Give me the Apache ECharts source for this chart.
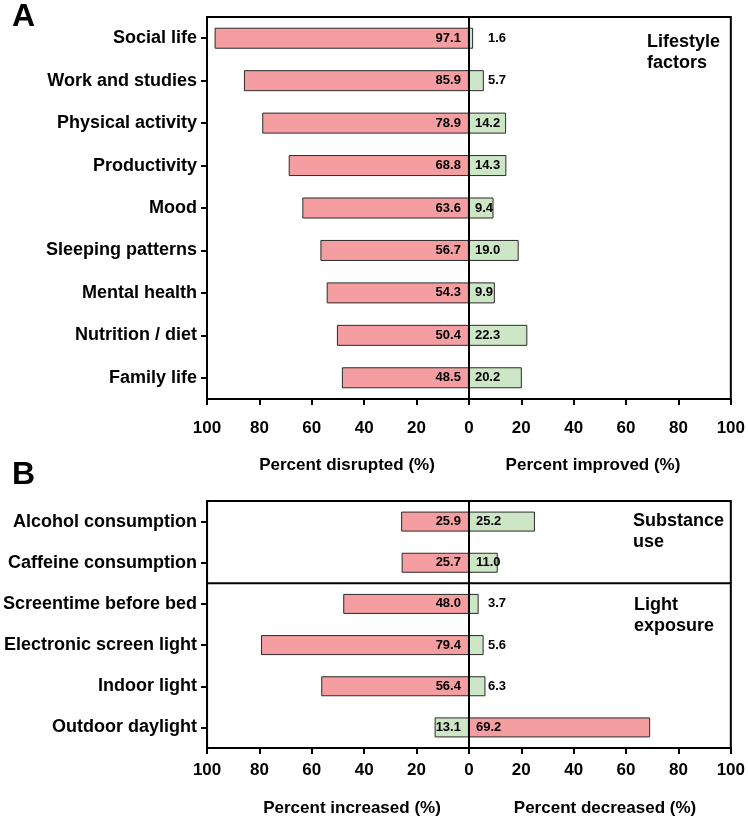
<!DOCTYPE html>
<html>
<head>
<meta charset="utf-8">
<script src="https://cdn.jsdelivr.net/npm/echarts@6/dist/echarts.min.js"></script>
<style>
html,body{margin:0;padding:0;background:#fff;}
#chart{width:748px;height:821px;}
</style>
</head>
<body>
<div id="chart"></div>
<script>
// ---- data ----
const catsA = ['Social life', 'Work and studies', 'Physical activity', 'Productivity', 'Mood', 'Sleeping patterns', 'Mental health', 'Nutrition / diet', 'Family life'];
const disrupted = [97.1, 85.9, 78.9, 68.8, 63.6, 56.7, 54.3, 50.4, 48.5];
const improved = [1.6, 5.7, 14.2, 14.3, 9.4, 19.0, 9.9, 22.3, 20.2];

const catsB = ['Alcohol consumption', 'Caffeine consumption', 'Screentime before bed', 'Electronic screen light', 'Indoor light', 'Outdoor daylight'];
const increased = [25.9, 25.7, 48.0, 79.4, 56.4, 13.1];
const decreased = [25.2, 11.0, 3.7, 5.6, 6.3, 69.2];
const decreaseIsWorse = [false, false, false, false, false, true];
const groupBreakAfter = 'Caffeine consumption';

const axisMin = -100, axisMax = 100, axisStep = 20;

// ---- styles ----
const RED = '#F49EA1';
const GREEN = '#CDE6C5';
const BORDER = '#2a2a2a';
const FONT = '"Liberation Sans", Arial, Helvetica, sans-serif';

const chart = echarts.init(document.getElementById('chart'));

function leftData(vals, worseFlags) {
  return vals.map((v, i) => ({
    value: -v,
    itemStyle: { color: (worseFlags && worseFlags[i]) ? GREEN : RED }
  }));
}
function rightData(vals, worseFlags) {
  return vals.map((v, i) => {
    const item = { value: v, itemStyle: { color: (worseFlags && worseFlags[i]) ? RED : GREEN } };
    if (v < 8) item.label = { position: [19, '50%'], verticalAlign: 'middle', align: 'left' };
    return item;
  });
}

const valLabel = (pos, dist) => ({
  show: true, position: pos, distance: dist,
  color: '#000', fontWeight: 'bold', fontSize: 13, fontFamily: FONT,
  formatter: p => Math.abs(p.value).toFixed(1)
});

function xAxisCfg(gi, margin) {
  return {
    type: 'value', gridIndex: gi, min: axisMin, max: axisMax, interval: axisStep,
    axisLine: { show: true, onZero: false, lineStyle: { color: '#000', width: 2 } },
    axisTick: { show: true, length: 6, lineStyle: { color: '#000', width: 2 } },
    axisLabel: { color: '#000', fontWeight: 'bold', fontSize: 17, fontFamily: FONT, margin: margin,
      formatter: v => String(Math.abs(v)) },
    splitLine: { show: false }
  };
}
function yAxisCfg(gi, cats) {
  return {
    type: 'category', gridIndex: gi, data: cats, inverse: true,
    axisLine: { show: true, onZero: false, lineStyle: { color: '#000', width: 2 } },
    axisTick: { show: true, alignWithLabel: true, length: 6, lineStyle: { color: '#000', width: 2 } },
    axisLabel: { color: '#000', fontWeight: 'bold', fontSize: 18, fontFamily: FONT, margin: 10 },
    splitLine: { show: false }
  };
}
const zeroLine = {
  silent: true, symbol: 'none', label: { show: false },
  lineStyle: { color: '#000', width: 2, type: 'solid' },
  data: [{ xAxis: 0 }]
};

const txt = (x, y, text, size, align) => ({
  type: 'text', x: x, y: y,
  style: { text: text, fill: '#000', font: 'bold ' + size + 'px ' + FONT,
    textAlign: align || 'left', textVerticalAlign: 'middle', lineHeight: 21 }
});

const GRID_LEFT = 207, GRID_RIGHT = 17;

chart.setOption({
  animation: false,
  backgroundColor: '#fff',
  grid: [
    { left: GRID_LEFT, right: GRID_RIGHT, top: 17, height: 382, show: true, borderColor: '#000', borderWidth: 2, containLabel: false },
    { left: GRID_LEFT, right: GRID_RIGHT, top: 501, height: 247, show: true, borderColor: '#000', borderWidth: 2, containLabel: false }
  ],
  xAxis: [xAxisCfg(0, 21), xAxisCfg(1, 14)],
  yAxis: [yAxisCfg(0, catsA), yAxisCfg(1, catsB)],
  series: [
    { type: 'bar', name: 'Percent disrupted', xAxisIndex: 0, yAxisIndex: 0, stack: 'a', barWidth: 21,
      data: leftData(disrupted, null), itemStyle: { borderColor: BORDER, borderWidth: 1 },
      label: valLabel('insideRight', 8), markLine: zeroLine },
    { type: 'bar', name: 'Percent improved', xAxisIndex: 0, yAxisIndex: 0, stack: 'a', barWidth: 21,
      data: rightData(improved, null), itemStyle: { borderColor: BORDER, borderWidth: 1 },
      label: valLabel('insideLeft', 6) },
    { type: 'bar', name: 'Percent increased', xAxisIndex: 1, yAxisIndex: 1, stack: 'b', barWidth: 20,
      data: leftData(increased, decreaseIsWorse), itemStyle: { borderColor: BORDER, borderWidth: 1 },
      label: valLabel('insideRight', 8), markLine: zeroLine },
    { type: 'bar', name: 'Percent decreased', xAxisIndex: 1, yAxisIndex: 1, stack: 'b', barWidth: 20,
      data: rightData(decreased, decreaseIsWorse), itemStyle: { borderColor: BORDER, borderWidth: 1 },
      label: valLabel('insideLeft', 7) }
  ]
});

// group divider in panel B, placed between the two category bands via the axis scale
const idx = catsB.indexOf(groupBreakAfter);
const yA = chart.convertToPixel({ yAxisIndex: 1 }, catsB[idx]);
const yB = chart.convertToPixel({ yAxisIndex: 1 }, catsB[idx + 1]);
const yMid = (yA + yB) / 2;
const xL = chart.convertToPixel({ xAxisIndex: 1 }, axisMin);
const xR = chart.convertToPixel({ xAxisIndex: 1 }, axisMax);

chart.setOption({
  graphic: [
    { type: 'line', shape: { x1: xL, y1: yMid, x2: xR, y2: yMid }, style: { stroke: '#000', lineWidth: 2 }, z: 10 },
    txt(12, 17, 'A', 32),
    txt(12, 475, 'B', 32),
    txt(647, 53, 'Lifestyle\nfactors', 18),
    txt(633, 532, 'Substance\nuse', 18),
    txt(634, 616, 'Light\nexposure', 18),
    txt(347, 465, 'Percent disrupted (%)', 17, 'center'),
    txt(593, 465, 'Percent improved (%)', 17, 'center'),
    txt(352, 808, 'Percent increased (%)', 17, 'center'),
    txt(605, 808, 'Percent decreased (%)', 17, 'center')
  ]
});
</script>
</body>
</html>
